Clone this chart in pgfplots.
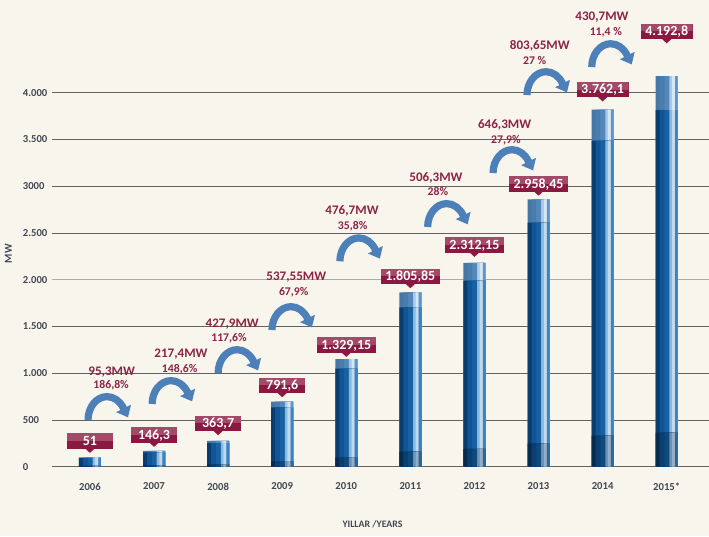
\documentclass[border=0pt]{standalone}
\usepackage{fontspec}
\setmainfont{Carlito}
\usepackage{pgfplots}
\usepackage{pgfplotstable}
\pgfplotsset{compat=1.18}
\usetikzlibrary{arrows.meta}

\definecolor{bg}{HTML}{F7F5EC}
\definecolor{gridc}{HTML}{626262}
\definecolor{gridlight}{HTML}{ABABAB}
\definecolor{tickc}{HTML}{424854}
\definecolor{anno}{HTML}{8C2447}
\definecolor{labtop}{HTML}{A34A68}
\definecolor{labbot}{HTML}{8A1840}
\definecolor{arrowc}{HTML}{4D80B8}

% body stripes
\definecolor{b1}{HTML}{0A3D6E}\definecolor{b2}{HTML}{115596}\definecolor{b3}{HTML}{1762A3}
\definecolor{b4}{HTML}{8DB6DB}\definecolor{b5}{HTML}{C2D8EC}\definecolor{b6}{HTML}{3A84C6}
% cap stripes
\definecolor{c1}{HTML}{4477A6}\definecolor{c2}{HTML}{4A7DAE}\definecolor{c3}{HTML}{5288BA}
\definecolor{c4}{HTML}{A9C8E3}\definecolor{c5}{HTML}{D8E6F2}\definecolor{c6}{HTML}{5B97CF}
% bottom stripes
\definecolor{d1}{HTML}{062B50}\definecolor{d2}{HTML}{0A3F6E}\definecolor{d3}{HTML}{0D4A7E}
\definecolor{d4}{HTML}{6E90AE}\definecolor{d5}{HTML}{93AEC5}\definecolor{d6}{HTML}{2A659C}

% bar heights as drawn: total, top of body (below the cap), top of the dark base
\pgfplotstableread{
x tot body bot
0 100 91 9
1 168 153 15
2 275 251 24
3 695 635 60
4 1150 1050 100
5 1865 1703 162
6 2180 1990 190
7 2860 2611 249
8 3820 3488 332
9 4178 3814 364
}\bars

\tikzset{
  lab/.style={fill=labbot, text=white, font=\bfseries\fontsize{10.5}{12}\selectfont,
    minimum width=34.5pt, minimum height=11.6pt, inner xsep=3.4pt, inner ysep=0pt,
    text height=0.64em, text depth=0pt,
    path picture={\fill[labtop] (path picture bounding box.north west) rectangle (path picture bounding box.east);}},
  annoA/.style={text=anno, font=\bfseries\fontsize{9.8}{11}\selectfont, inner sep=0pt, text height=0.64em, text depth=0pt},
  annoB/.style={text=anno, font=\bfseries\fontsize{8.8}{10}\selectfont, inner sep=0pt, text height=0.64em, text depth=0pt},
  arr/.style={arrowc, line width=5.4pt, -{Triangle[width=12pt,length=7.5pt]}},
}
\newcommand{\vallab}[3]{%
  \node[lab] at (axis cs:#1,#2) {#3};
  \fill[labbot] ([xshift=-3.5pt,yshift=-5.7pt]axis cs:#1,#2) -- ([xshift=3.5pt,yshift=-5.7pt]axis cs:#1,#2) -- ([yshift=-8.9pt]axis cs:#1,#2) -- cycle;}
\newcommand{\curvarr}[2]{%
  \draw[arr] (axis cs:#1,#2) arc[start angle=180, end angle=30, x radius=14.25pt, y radius=17.5pt] -- ++(3.4pt,-6.8pt);}
% one vertical stripe of every bar: column, width, shift, colour
\newcommand{\stripe}[4]{%
  \addplot[ybar, bar width=#2, bar shift=#3, fill=#4, draw=none] table[x=x, y=#1] {\bars};}
\newcommand{\layer}[2]{% column, colour prefix
  \stripe{#1}{0.343}{0}{#21}
  \stripe{#1}{0.28126}{0.03087}{#22}
  \stripe{#1}{0.2058}{0.0686}{#23}
  \stripe{#1}{0.13034}{0.10633}{#24}
  \stripe{#1}{0.04802}{0.10633}{#25}
  \stripe{#1}{0.04116}{0.15092}{#26}}

\begin{document}
\begin{tikzpicture}
\path[use as bounding box, fill=bg] (-38.625pt,-51.975pt) rectangle (493.125pt,350.025pt);
\begin{axis}[
  at={(0,0)}, anchor=south west, scale only axis,
  width=493.125pt, height=280.5pt,
  xmin=-0.6, xmax=9.66, ymin=0, ymax=4000,
  clip=false,
  axis line style={draw=none},
  major tick length=0pt,
  xtick={0,...,9},
  xticklabels={2006,2007,2008,2009,2010,2011,2012,2013,2014,2015*},
  ytick={0,500,1000,1500,2500,3000,3500,4000},
  yticklabels={0,500,1.000,1.500,2.500,3000,3.500,4.000},
  extra y ticks={2000}, extra y tick labels={2.000},
  extra y tick style={grid style={color=gridlight, line width=1pt}},
  ymajorgrids,
  grid style={color=gridc, line width=0.6pt},
  ticklabel style={font=\bfseries\fontsize{8}{9}\selectfont, text=tickc},
  yticklabel style={anchor=west, xshift=-25pt},
  xticklabel style={yshift=-8.5pt},
]
\layer{tot}{c}
\layer{body}{b}
\layer{bot}{d}

% curved arrows
\curvarr{-0.03}{500}
\curvarr{0.97}{671}
\curvarr{2.0}{1002}
\curvarr{2.84}{1462}
\curvarr{3.90}{2197}
\curvarr{5.27}{2564}
\curvarr{6.29}{3141}
\curvarr{6.82}{3975}
\curvarr{7.83}{4274}

% increase annotations
\node[annoA] at (axis cs:0.34,1024) {95,3MW};
\node[annoB] at (axis cs:0.33,879) {186,8\%};
\node[annoA] at (axis cs:1.42,1216) {217,4MW};
\node[annoB] at (axis cs:1.40,1056) {148,6\%};
\node[annoA] at (axis cs:2.22,1537) {427,9MW};
\node[annoB] at (axis cs:2.17,1387) {117,6\%};
\node[annoA] at (axis cs:3.22,2040) {537,55MW};
\node[annoB] at (axis cs:3.18,1879) {67,9\%};
\node[annoA] at (axis cs:4.09,2746) {476,7MW};
\node[annoB] at (axis cs:4.10,2585) {35,8\%};
\node[annoA] at (axis cs:5.40,3099) {506,3MW};
\node[annoB] at (axis cs:5.43,2949) {28\%};
\node[annoA] at (axis cs:6.47,3665) {646,3MW};
\node[annoB] at (axis cs:6.49,3505) {27,9\%};
\node[annoA] at (axis cs:7.02,4510) {803,65MW};
\node[annoB] at (axis cs:6.94,4344) {27 \%};
\node[annoA] at (axis cs:7.99,4815) {430,7MW};
\node[annoB] at (axis cs:8.05,4660) {11,4 \%};

% value labels
\vallab{0}{275}{51}
\vallab{1}{339}{146,3}
\vallab{2}{464}{363,7}
\vallab{3}{870}{791,6}
\vallab{4}{1302}{1.329,15}
\vallab{5}{2036}{1.805,85}
\vallab{6}{2371}{2.312,15}
\vallab{7}{3026}{2.958,45}
\vallab{8}{4034}{3.762,1}
\vallab{9}{4655}{4.192,8}

% axis titles
\node[text=tickc, font=\bfseries\fontsize{8}{9}\selectfont, rotate=90] at ([xshift=-32.3pt]axis cs:-0.6,2280) {MW};
\node[text=tickc, font=\bfseries\fontsize{7.4}{9}\selectfont] at ([yshift=-43pt]axis cs:4.41,0) {YILLAR /YEARS};
\end{axis}
\end{tikzpicture}
\end{document}
